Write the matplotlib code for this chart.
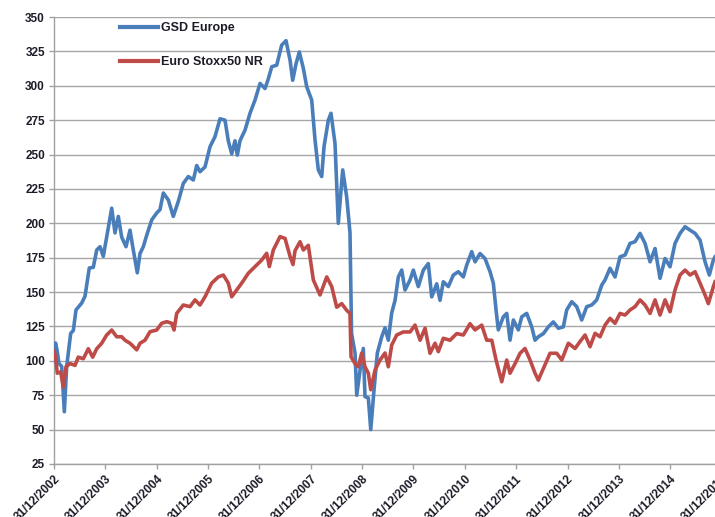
import matplotlib
matplotlib.use("Agg")
import matplotlib.pyplot as plt

# x = years elapsed since 31/12/2002
gsd_x = [0, 0.029, 0.058, 0.097, 0.150, 0.201, 0.247, 0.325, 0.376, 0.428, 0.539, 0.604, 0.687, 0.765,
         0.832, 0.896, 0.960, 1.026, 1.124, 1.188, 1.252, 1.318, 1.402, 1.480, 1.533, 1.622, 1.675, 1.739,
         1.811, 1.903, 2.000, 2.064, 2.129, 2.226, 2.323, 2.421, 2.518, 2.615, 2.713, 2.779, 2.843, 2.941,
         3.038, 3.135, 3.233, 3.330, 3.394, 3.461, 3.525, 3.570, 3.622, 3.720, 3.817, 3.914, 4.012, 4.109,
         4.173, 4.240, 4.337, 4.434, 4.518, 4.596, 4.648, 4.713, 4.777, 4.855, 4.921, 5.018, 5.083, 5.147,
         5.213, 5.258, 5.342, 5.394, 5.472, 5.536, 5.622, 5.700, 5.764, 5.794, 5.862, 5.895, 5.959, 6.023,
         6.056, 6.121, 6.168, 6.232, 6.296, 6.382, 6.446, 6.510, 6.576, 6.641, 6.705, 6.771, 6.835, 6.933,
         6.997, 7.094, 7.192, 7.289, 7.355, 7.453, 7.517, 7.581, 7.679, 7.776, 7.873, 7.971, 8.037, 8.134,
         8.199, 8.296, 8.393, 8.491, 8.555, 8.608, 8.652, 8.750, 8.816, 8.880, 8.945, 9.042, 9.108, 9.205,
         9.303, 9.367, 9.431, 9.529, 9.626, 9.723, 9.821, 9.918, 9.984, 10.082, 10.179, 10.276, 10.374,
         10.471, 10.568, 10.666, 10.730, 10.827, 10.925, 11.022, 11.120, 11.217, 11.314, 11.412, 11.509,
         11.607, 11.704, 11.801, 11.899, 11.996, 12.093, 12.191, 12.288, 12.386, 12.483, 12.580, 12.678,
         12.761, 12.839, 12.872]
gsd_europe = [100, 113, 108, 98, 96, 63, 96, 120, 122, 137, 142, 147, 167.5, 168,
              180.6, 183, 176, 190, 211, 193, 205, 190, 183, 195, 183, 164, 178, 183,
              192, 202.5, 207.5, 210, 222, 217, 205, 216, 229, 234, 231.5, 242, 237.5, 241,
              255.7, 263, 276, 275, 260, 250.5, 260, 249.6, 260, 267.8, 280, 289.6, 301.7, 298,
              305, 313.8, 315, 329.6, 332.8, 318.7, 304, 316, 324.6, 312.7, 299.3, 289.6, 260.6, 238.8,
              234, 255.7, 275, 280, 258, 200, 238.8, 219, 193, 120, 105.7, 75, 93, 109,
              74, 73, 50, 79, 105.7, 117.5, 124, 115, 134.8, 144, 161, 166, 151.5, 158.8,
              166, 154, 166, 170.7, 146.5, 156, 144, 157.5, 154, 162.4, 164.8, 161, 169.7, 179.4,
              172, 178, 174.4, 164.8, 156.5, 137, 122.5, 132, 134.5, 115, 129.7, 122.5, 132, 134.5,
              124.7, 115, 117.5, 119.8, 124.7, 128.3, 123.7, 124.7, 137, 143, 139.4, 129.7, 139.4,
              140.6, 144.3, 155.1, 158.8, 167.3, 161, 175.6, 177, 185.4, 186.6, 192.7, 185.4,
              172, 181.7, 160, 174.4, 168.4, 185.4, 192.7, 197.5, 195, 192.7, 187.8, 172,
              162.4, 173.3, 175.6]

stoxx_x = [0, 0.029, 0.064, 0.130, 0.181, 0.234, 0.312, 0.409, 0.473, 0.571, 0.668, 0.754, 0.832, 0.929,
           1.026, 1.124, 1.221, 1.318, 1.383, 1.480, 1.611, 1.675, 1.772, 1.870, 2.000, 2.097, 2.195,
           2.292, 2.337, 2.389, 2.518, 2.648, 2.746, 2.843, 2.941, 3.071, 3.200, 3.297, 3.394, 3.461,
           3.558, 3.655, 3.784, 3.914, 4.045, 4.142, 4.193, 4.271, 4.401, 4.499, 4.596, 4.654, 4.693,
           4.791, 4.855, 4.952, 5.050, 5.180, 5.311, 5.408, 5.505, 5.603, 5.700, 5.764, 5.784, 5.862,
           5.926, 5.992, 6.056, 6.121, 6.168, 6.251, 6.349, 6.446, 6.510, 6.576, 6.674, 6.802, 6.933,
           7.030, 7.128, 7.225, 7.322, 7.420, 7.484, 7.581, 7.712, 7.842, 7.971, 8.101, 8.199, 8.329,
           8.426, 8.524, 8.608, 8.719, 8.816, 8.880, 8.978, 9.075, 9.172, 9.270, 9.367, 9.431, 9.529,
           9.659, 9.790, 9.887, 10.016, 10.146, 10.243, 10.341, 10.438, 10.536, 10.633, 10.730, 10.827,
           10.925, 11.022, 11.120, 11.217, 11.314, 11.412, 11.509, 11.607, 11.704, 11.801, 11.899,
           11.996, 12.093, 12.191, 12.288, 12.386, 12.483, 12.580, 12.678, 12.742, 12.839, 12.872]
euro_stoxx50_nr = [107, 103, 91, 92, 81, 95.7, 98, 96.7, 102.7, 101.5, 108.8, 102.7, 108.8, 112.8,
                   118.8, 122.4, 117.5, 117.5, 115, 112.8, 108, 112.8, 115, 121.2, 122.4, 127.3, 128.5,
                   127.3, 122.4, 134.5, 140.6, 139.4, 144.3, 140.6, 146.6, 156.5, 161, 162.4, 156.5, 146.6,
                   151.5, 156.5, 163.7, 168.5, 173.3, 178.2, 168.5, 180.6, 190.3, 189, 176, 170, 180,
                   186.6, 180.6, 184, 158.8, 147.9, 161, 154, 139, 141.6, 136.7, 134.5, 103, 98,
                   95.7, 105.7, 95.7, 91, 79, 93.3, 100.6, 105.7, 95.7, 111.5, 118.8, 121, 121,
                   126, 115, 123.7, 105.5, 112.8, 106.7, 116.4, 115, 119.8, 118.8, 127, 122.5, 126,
                   115, 115, 100.6, 84.8, 100.6, 91, 98, 105.5, 109, 100.6, 91, 86, 94.4,
                   105.5, 105.5, 100.6, 112.8, 109, 114, 118.8, 110.3, 120, 117.5, 126, 130.9,
                   127.3, 134.5, 133.3, 137, 139.4, 144.3, 140.6, 134.5, 144.3, 133.3, 144.3,
                   135.7, 151.5, 162.4, 166, 162.4, 164.8, 156.5, 147.9, 141.6, 153.9, 157.5]

tick_labels = ["31/12/2002", "31/12/2003", "31/12/2004", "31/12/2005", "31/12/2006", "31/12/2007",
               "31/12/2008", "31/12/2009", "31/12/2010", "31/12/2011", "31/12/2012", "31/12/2013",
               "31/12/2014", "31/12/2015"]
y_ticks = list(range(25, 351, 25))

W, H = 715, 517
fig = plt.figure(figsize=(W / 100, H / 100), dpi=100)
left, right, bottom, top = 54, 721.6, 464, 17
ax = fig.add_axes([left / W, 1 - bottom / H, (right - left) / W, (bottom - top) / H])

font = ["Liberation Sans", "DejaVu Sans"]
txt_col = "#1c1c28"

ax.plot(gsd_x, gsd_europe, color="#4a7ebb", lw=2.6, label="GSD Europe", solid_joinstyle="round", zorder=3)
ax.plot(stoxx_x, euro_stoxx50_nr, color="#be4b48", lw=2.6, label="Euro Stoxx50 NR", solid_joinstyle="round", zorder=3)

ax.set_xlim(0, 13)
ax.set_ylim(25, 350)
ax.set_yticks(y_ticks)
ax.set_xticks(range(len(tick_labels)))
ax.set_xticklabels(tick_labels, rotation=45, ha="right", rotation_mode="anchor",
                   fontsize=8.5, fontweight="bold", family=font, color=txt_col)
ax.set_yticklabels([str(v) for v in y_ticks], fontsize=8.5, fontweight="bold", family=font, color=txt_col)

ax.yaxis.grid(True, color="#a6a6a6", lw=1.0)
ax.set_axisbelow(True)
for s in ["top", "right"]:
    ax.spines[s].set_visible(False)
for s in ["left", "bottom"]:
    ax.spines[s].set_color("#a0a0a0")
    ax.spines[s].set_linewidth(1.0)
ax.tick_params(axis="both", direction="out", length=3.5, color="#a0a0a0", width=1.0)
ax.tick_params(axis="y", pad=3)
ax.tick_params(axis="x", pad=3)

leg = fig.legend(loc="upper left", bbox_to_anchor=(120 / W, 1 - 22 / H), frameon=False,
                 prop={"family": font, "weight": "bold", "size": 9}, handlelength=3.0,
                 handletextpad=0.3, labelspacing=1.75, borderpad=0, borderaxespad=0)
for t in leg.get_texts():
    t.set_color(txt_col)
for l in leg.get_lines():
    l.set_linewidth(3.0)

fig.savefig("out.png", dpi=100)
